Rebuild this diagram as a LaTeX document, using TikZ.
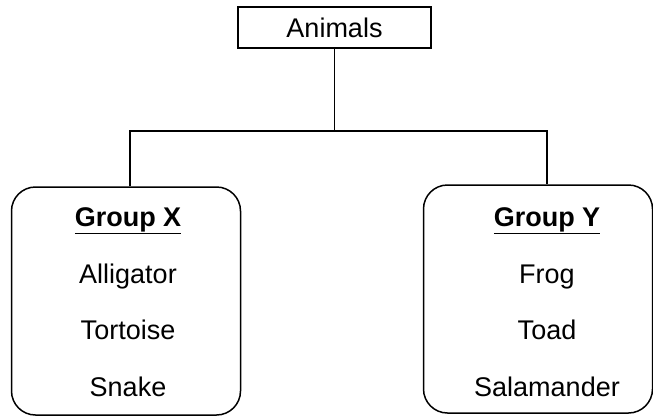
\documentclass[tikz,border=0pt]{standalone}
\usepackage{fontspec}
\setmainfont{Liberation Sans}
\usepackage{tikz}
\usetikzlibrary{positioning}

\begin{document}
\begin{tikzpicture}[x=1pt, y=-1pt,
  line width=1.5pt,
  top/.style={draw, minimum width=193pt, minimum height=41pt, inner sep=0pt, font=\fontsize{27}{30}\selectfont},
  grp/.style={draw, rounded corners=24pt, minimum width=229pt, minimum height=228pt, inner sep=0pt},
  items/.style={align=center, inner sep=0pt, font=\fontsize{27}{56.5}\selectfont}]
\useasboundingbox (0,0) rectangle (653,418);
\node[top] (animals) at (334.5,27.5) {Animals};
\node[grp] (grpx) at (126,301) {};
\node[grp] (grpy) at (538,299) {};
\node[items] (listx) at (128,302) {\underline{\textbf{Group X}}\\Alligator\\Tortoise\\Snake};
\node[items] (listy) at (547,302) {\underline{\textbf{Group Y}}\\Frog\\Toad\\Salamander};
\coordinate (split) at (334.5,131);
\draw (animals.south) -- (split);
\draw ([xshift=4pt]grpx.north) |- (split) -| ([xshift=9pt]grpy.north);
\end{tikzpicture}
\end{document}
